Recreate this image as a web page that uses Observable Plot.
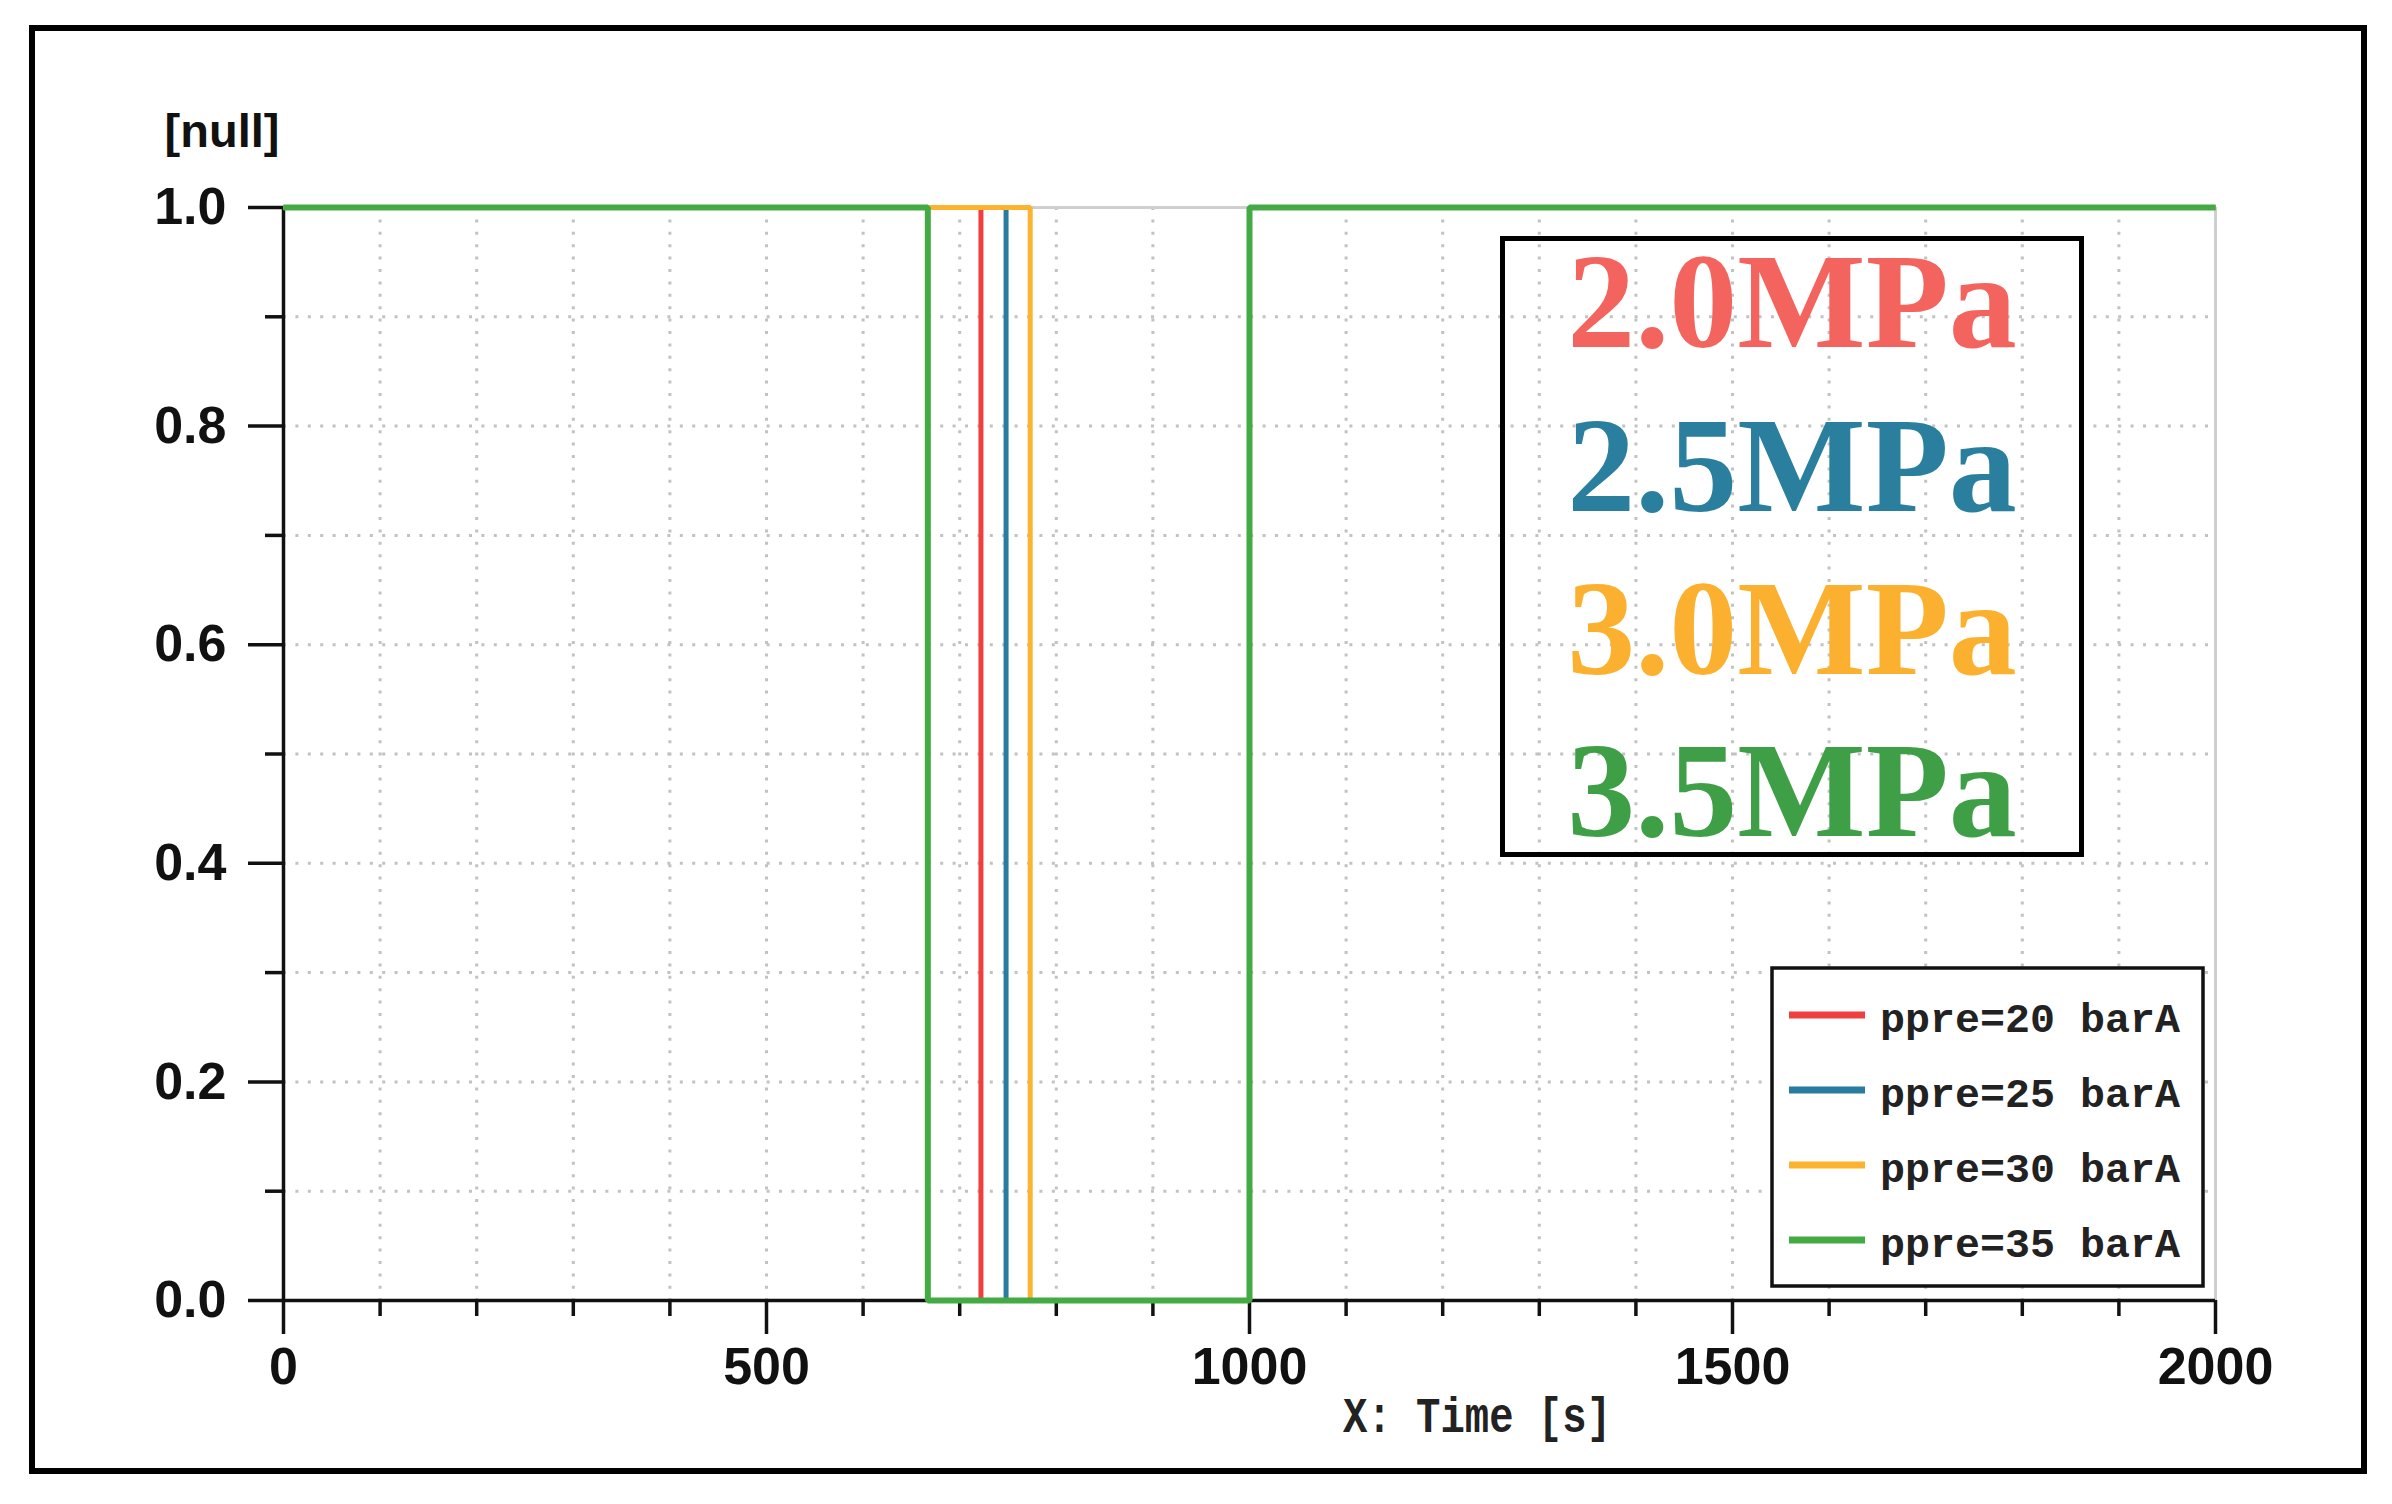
<!DOCTYPE html>
<html>
<head>
<meta charset="utf-8">
<script src="https://cdn.jsdelivr.net/npm/d3@7"></script>
<script src="https://cdn.jsdelivr.net/npm/@observablehq/plot@0.6"></script>
<style>
html, body { margin: 0; padding: 0; background: #fff; }
#chart { position: relative; width: 2392px; height: 1504px; }
</style>
</head>
<body>
<div id="chart"></div>
<script>
// ---- data ----
const seriesNames  = ["ppre=20 barA", "ppre=25 barA", "ppre=30 barA", "ppre=35 barA"];
const seriesColors = ["#ef3f3f", "#2a7ba0", "#fdb32f", "#44aa44"];
const startTimes   = [0, 0, 0, 0];
const startValues  = [1, 1, 1, 1];
const dropTimes    = [722, 748, 773, 667];
const lowValues    = [0, 0, 0, 0];
const riseTimes    = [1000, 1000, 1000, 1000];
const highValues   = [1, 1, 1, 1];
const endTimes     = [2000, 2000, 2000, 2000];

const pressureLabels = ["2.0MPa", "2.5MPa", "3.0MPa", "3.5MPa"];
const pressureColors = ["#f4645e", "#2a7f9f", "#fbb12f", "#3f9f47"];

const xMajorTicks = [0, 500, 1000, 1500, 2000];
const xMinorTicks = [100, 200, 300, 400, 600, 700, 800, 900, 1100, 1200, 1300, 1400, 1600, 1700, 1800, 1900];
const xGridTicks  = [100, 200, 300, 400, 500, 600, 700, 800, 900, 1000, 1100, 1200, 1300, 1400, 1500, 1600, 1700, 1800, 1900];
const yMajorTicks = [0, 0.2, 0.4, 0.6, 0.8, 1.0];
const yMinorTicks = [0.1, 0.3, 0.5, 0.7, 0.9];
const yGridTicks  = [0.1, 0.2, 0.3, 0.4, 0.5, 0.6, 0.7, 0.8, 0.9];
const yUnitLabel  = "[null]";
const xAxisLabel  = "X: Time [s]";

// ---- build series tables ----
const seriesData = seriesNames.map((name, i) => [
  {series: name, t: startTimes[i], v: startValues[i]},
  {series: name, t: dropTimes[i],  v: lowValues[i]},
  {series: name, t: riseTimes[i],  v: highValues[i]},
  {series: name, t: endTimes[i],   v: highValues[i]}
]);
const lineWidths = [5, 5, 5, 6];

const axisInk = "#111";
const gridStyle = {stroke: "#c2c2c2", strokeOpacity: 1, strokeWidth: 3, strokeDasharray: "3 9.4"};

const plot = Plot.plot({
  width: 2392,
  height: 1504,
  marginLeft: 283,
  marginRight: 177,
  marginTop: 207,
  marginBottom: 204,
  x: {domain: [0, 2000], label: null},
  y: {domain: [0, 1], label: null},
  style: {
    fontFamily: "'Liberation Sans', Arial, sans-serif",
    fontSize: "52px",
    fontWeight: "bold",
    color: axisInk,
    background: "#fff",
    overflow: "visible"
  },
  marks: [
    Plot.gridX(xGridTicks, gridStyle),
    Plot.gridY(yGridTicks, gridStyle),
    Plot.ruleY([1], {stroke: "#cfcfcf", strokeWidth: 3}),
    Plot.ruleX([2000], {stroke: "#cfcfcf", strokeWidth: 3}),
    Plot.axisX(xMinorTicks, {tickSize: 16, strokeWidth: 3.5, stroke: axisInk, tickFormat: () => "", label: null}),
    Plot.axisX(xMajorTicks, {tickSize: 34, tickPadding: 13, strokeWidth: 3.5, stroke: axisInk, fill: axisInk,
      tickFormat: d => String(d), label: null}),
    Plot.axisY(yMinorTicks, {tickSize: 18, strokeWidth: 3.5, stroke: axisInk, tickFormat: () => "", label: null}),
    Plot.axisY(yMajorTicks, {tickSize: 35, tickPadding: 22, strokeWidth: 3.5, stroke: axisInk, fill: axisInk,
      tickFormat: d3.format(".1f"), label: null}),
    Plot.ruleX([0], {stroke: axisInk, strokeWidth: 3.5}),
    Plot.ruleY([0], {stroke: axisInk, strokeWidth: 3.5}),
    ...seriesData.map((rows, i) =>
      Plot.line(rows, {x: "t", y: "v", curve: "step-after", stroke: seriesColors[i], strokeWidth: lineWidths[i],
        strokeLinejoin: "miter", strokeLinecap: "butt"}))
  ]
});

document.getElementById("chart").appendChild(plot);

// ---- decorations (frame, unit label, axis title, annotation box, legend) ----
const svg = d3.select(plot);
const deco = svg.append("g").attr("class", "decorations").attr("text-anchor", "start");

// outer frame
deco.append("rect")
  .attr("x", 32).attr("y", 28).attr("width", 2332).attr("height", 1443)
  .attr("fill", "none").attr("stroke", "#000").attr("stroke-width", 6);

// unit label above y axis
deco.append("text")
  .attr("x", 222).attr("y", 147)
  .attr("text-anchor", "middle")
  .attr("font-family", "'Liberation Sans', Arial, sans-serif")
  .attr("font-weight", "bold").attr("font-size", 47)
  .attr("fill", axisInk)
  .text(yUnitLabel);

// x axis title
deco.append("text")
  .attr("x", 1343).attr("y", 1432)
  .attr("text-anchor", "start")
  .attr("font-family", "'Liberation Mono', monospace")
  .attr("font-weight", "bold").attr("font-size", 50)
  .attr("textLength", 268).attr("lengthAdjust", "spacingAndGlyphs")
  .attr("fill", "#222")
  .text(xAxisLabel);

// annotation box with pressure labels
deco.append("rect")
  .attr("x", 1502.5).attr("y", 238.5).attr("width", 579).attr("height", 616)
  .attr("fill", "none").attr("stroke", "#000").attr("stroke-width", 5);
const pressureBaselines = [347, 511, 674, 836];
pressureLabels.forEach((lab, i) => {
  deco.append("text")
    .attr("x", 1792).attr("y", pressureBaselines[i])
    .attr("text-anchor", "middle")
    .attr("font-family", "'Liberation Serif', 'Times New Roman', serif")
    .attr("font-weight", "bold").attr("font-size", 136)
    .attr("fill", pressureColors[i])
    .text(lab);
});

// legend box
deco.append("rect")
  .attr("x", 1772).attr("y", 968).attr("width", 431).attr("height", 318)
  .attr("fill", "#fff").attr("stroke", "#111").attr("stroke-width", 3.5);
const legendRows = [1015, 1090, 1165, 1240];
seriesNames.forEach((name, i) => {
  deco.append("line")
    .attr("x1", 1789).attr("x2", 1865)
    .attr("y1", legendRows[i]).attr("y2", legendRows[i])
    .attr("stroke", seriesColors[i]).attr("stroke-width", 7);
  deco.append("text")
    .attr("x", 1880).attr("y", legendRows[i] + 17)
    .attr("text-anchor", "start")
    .attr("font-family", "'Liberation Mono', monospace")
    .attr("font-weight", "bold").attr("font-size", 40)
    .attr("textLength", 300).attr("lengthAdjust", "spacingAndGlyphs")
    .attr("fill", "#222")
    .text(name);
});
</script>
</body>
</html>
